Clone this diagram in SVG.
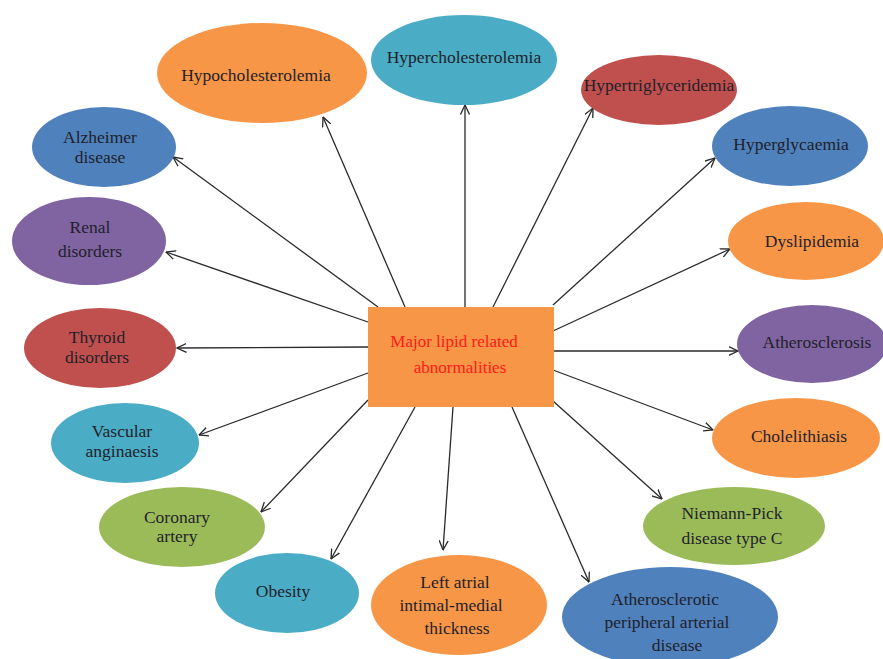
<svg xmlns="http://www.w3.org/2000/svg" width="883" height="659" viewBox="0 0 883 659">
<style>
.t{font-family:"Liberation Serif","Times New Roman",serif;font-size:17.5px;fill:#1f1f2a;text-anchor:middle}
.c{font-family:"Liberation Serif","Times New Roman",serif;font-size:17px;fill:#ff1a1a;text-anchor:middle}
.or{fill:#F79646}.tl{fill:#4BACC6}.rd{fill:#C0504D}.bl{fill:#4F81BD}.pu{fill:#8064A2}.gr{fill:#9BBB59}
.a{stroke:#2a2a2a;stroke-width:1.3;fill:none;marker-end:url(#ah)}
</style>
<defs>
<marker id="ah" viewBox="0 0 10 10" refX="9.5" refY="5" markerWidth="10" markerHeight="10" markerUnits="userSpaceOnUse" orient="auto">
<path d="M0,0.5 L9.5,5 L0,9.5" fill="none" stroke="#2a2a2a" stroke-width="1.3"/>
</marker>
</defs>
<rect width="883" height="659" fill="#ffffff"/>
<g id="connectors">
<line class="a" x1="405" y1="307" x2="323" y2="117"/>
<line class="a" x1="465" y1="307" x2="465" y2="105"/>
<line class="a" x1="493" y1="307" x2="593" y2="108"/>
<line class="a" x1="553" y1="305" x2="715" y2="158"/>
<line class="a" x1="553" y1="331" x2="730" y2="249"/>
<line class="a" x1="553" y1="351" x2="738" y2="351"/>
<line class="a" x1="553" y1="370" x2="713" y2="430"/>
<line class="a" x1="553" y1="401" x2="662" y2="499"/>
<line class="a" x1="512" y1="407" x2="589" y2="582"/>
<line class="a" x1="453" y1="407" x2="443" y2="550"/>
<line class="a" x1="415" y1="407" x2="331" y2="559"/>
<line class="a" x1="368" y1="400" x2="261" y2="512"/>
<line class="a" x1="368" y1="373" x2="199" y2="435"/>
<line class="a" x1="368" y1="347" x2="177" y2="348"/>
<line class="a" x1="368" y1="322" x2="166" y2="252"/>
<line class="a" x1="378" y1="307" x2="173" y2="157"/>
</g>
<g id="center">
<rect x="368" y="307" width="186" height="100" fill="#F79646"/>
<text class="c" x="454" y="347">Major lipid related</text>
<text class="c" x="460" y="373">abnormalities</text>
</g>
<g id="hypocholesterolemia"><ellipse class="or" cx="262" cy="73" rx="105" ry="50"/><text class="t" x="256" y="81">Hypocholesterolemia</text></g>
<g id="hypercholesterolemia"><ellipse class="tl" cx="464" cy="60" rx="93" ry="45"/><text class="t" x="464" y="63">Hypercholesterolemia</text></g>
<g id="hypertriglyceridemia"><ellipse class="rd" cx="659" cy="90" rx="78" ry="35"/><text class="t" x="659" y="91">Hypertriglyceridemia</text></g>
<g id="hyperglycaemia"><ellipse class="bl" cx="790" cy="146" rx="78" ry="40"/><text class="t" x="791" y="150">Hyperglycaemia</text></g>
<g id="dyslipidemia"><ellipse class="or" cx="806" cy="241" rx="78" ry="39"/><text class="t" x="812" y="247">Dyslipidemia</text></g>
<g id="atherosclerosis"><ellipse class="pu" cx="812" cy="344" rx="75" ry="39"/><text class="t" x="817" y="348">Atherosclerosis</text></g>
<g id="cholelithiasis"><ellipse class="or" cx="796" cy="438" rx="84" ry="40"/><text class="t" x="799" y="442">Cholelithiasis</text></g>
<g id="niemann-pick"><ellipse class="gr" cx="734" cy="526" rx="91" ry="39"/><text class="t" x="732" y="519">Niemann-Pick</text><text class="t" x="732" y="544">disease type C</text></g>
<g id="atherosclerotic-pad"><ellipse class="bl" cx="670" cy="617" rx="108" ry="50"/><text class="t" x="665" y="605">Atherosclerotic</text><text class="t" x="667" y="628">peripheral arterial</text><text class="t" x="677" y="651">disease</text></g>
<g id="left-atrial"><ellipse class="or" cx="459" cy="605" rx="88" ry="50"/><text class="t" x="455" y="588">Left atrial</text><text class="t" x="451" y="611">intimal-medial</text><text class="t" x="457" y="634">thickness</text></g>
<g id="obesity"><ellipse class="tl" cx="287" cy="593" rx="72" ry="40"/><text class="t" x="283" y="597">Obesity</text></g>
<g id="coronary-artery"><ellipse class="gr" cx="182" cy="527" rx="83" ry="40"/><text class="t" x="177" y="523">Coronary</text><text class="t" x="177" y="542">artery</text></g>
<g id="vascular-anginaesis"><ellipse class="tl" cx="125" cy="443" rx="74" ry="40"/><text class="t" x="122" y="437">Vascular</text><text class="t" x="122" y="457">anginaesis</text></g>
<g id="thyroid-disorders"><ellipse class="rd" cx="100" cy="348" rx="76" ry="40"/><text class="t" x="97" y="343">Thyroid</text><text class="t" x="97" y="363">disorders</text></g>
<g id="renal-disorders"><ellipse class="pu" cx="89" cy="241" rx="77" ry="44"/><text class="t" x="90" y="233">Renal</text><text class="t" x="90" y="257">disorders</text></g>
<g id="alzheimer-disease"><ellipse class="bl" cx="104" cy="147" rx="72" ry="40"/><text class="t" x="100" y="143">Alzheimer</text><text class="t" x="100" y="163">disease</text></g>
</svg>
